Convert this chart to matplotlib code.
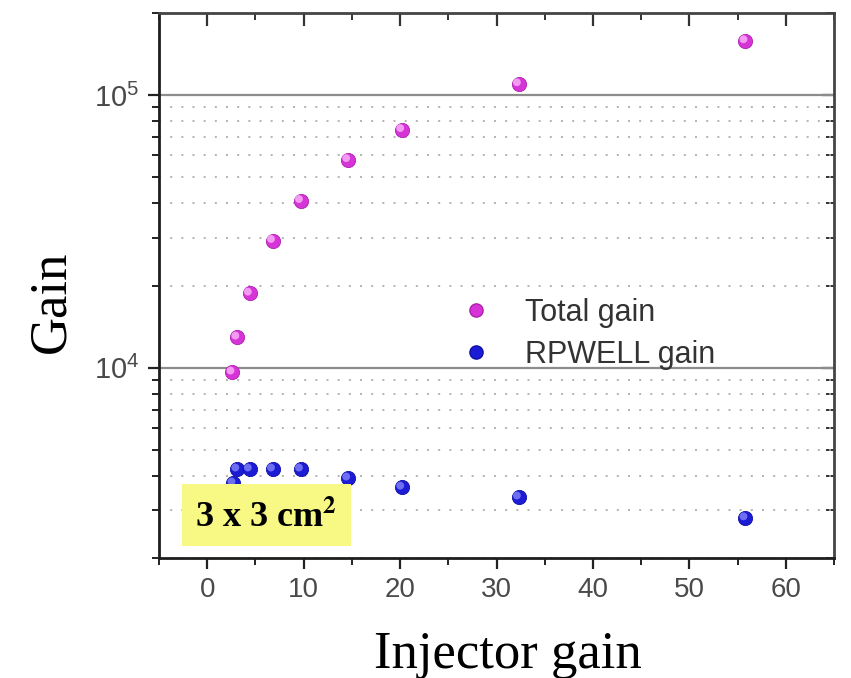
import matplotlib
matplotlib.use("Agg")
import matplotlib.pyplot as plt
import matplotlib.transforms as mtransforms
from matplotlib.ticker import LogLocator, NullFormatter, MultipleLocator, FixedLocator
from matplotlib.lines import Line2D

# Data
injector_gain = [2.6, 3.1, 4.4, 6.8, 9.7, 14.6, 20.2, 32.3, 55.8]
total_gain = [9600, 12900, 18700, 29200, 40900, 57800, 74500, 109700, 157800]
rpwell_inj = [2.7, 3.1, 4.4, 6.8, 9.7, 14.6, 20.2, 32.3, 55.8]
rpwell_gain = [3760, 4230, 4230, 4230, 4230, 3920, 3630, 3340, 2800]
x_ticks = [0, 10, 20, 30, 40, 50, 60]
series_labels = ["Total gain", "RPWELL gain"]

plt.rcParams['mathtext.fontset'] = 'custom'
plt.rcParams['mathtext.rm'] = 'Liberation Sans'
plt.rcParams['mathtext.it'] = 'Liberation Sans:italic'
plt.rcParams['font.family'] = ['Liberation Sans', 'DejaVu Sans']

W, H = 851, 678
fig = plt.figure(figsize=(W / 100, H / 100), dpi=100)
ax = fig.add_axes([159 / W, 1 - 558 / H, (834 - 159) / W, (558 - 13) / H])

ax.set_yscale('log')
ax.set_xlim(-5, 65)
ax.set_ylim(2000, 200000)

# grid
ax.yaxis.set_minor_locator(LogLocator(base=10, subs=range(2, 10)))
ax.yaxis.set_minor_formatter(NullFormatter())
ax.grid(True, which='major', axis='y', color='#8c8c8c', lw=1.6, ls='-')
ax.grid(True, which='minor', axis='y', color='#a8a8a8', lw=1.2, ls=(0, (1.2, 5.5)))
ax.set_axisbelow(True)

ax.xaxis.set_major_locator(FixedLocator(x_ticks))
ax.xaxis.set_minor_locator(MultipleLocator(5))

tick_color = '#4a4a4a'
ax.tick_params(axis='both', which='major', direction='out', length=8, width=1.6,
               color='#222222', labelsize=20, labelcolor=tick_color)
ax.tick_params(axis='both', which='minor', direction='out', length=5, width=1.4, color='#222222')
ax.tick_params(axis='x', which='major', pad=6)
ax.tick_params(axis='y', which='major', pad=6, labelsize=21)

for s in ['left', 'bottom']:
    ax.spines[s].set_linewidth(2.0)
    ax.spines[s].set_color('#1e1e1e')
for s in ['top', 'right']:
    ax.spines[s].set_linewidth(2.0)
    ax.spines[s].set_color('#444444')

# mirrored inward ticks on top/right
secx = ax.secondary_xaxis('top')
secx.xaxis.set_major_locator(FixedLocator(x_ticks))
secx.xaxis.set_minor_locator(MultipleLocator(5))
secx.tick_params(which='major', direction='in', length=9, width=1.6, color='#333333', labeltop=False)
secx.tick_params(which='minor', direction='in', length=5, width=1.4, color='#333333')
secx.spines['top'].set_visible(False)
secy = ax.secondary_yaxis('right')
secy.yaxis.set_minor_locator(LogLocator(base=10, subs=range(2, 10)))
secy.yaxis.set_minor_formatter(NullFormatter())
secy.tick_params(which='major', direction='in', length=9, width=1.6, color='#333333', labelright=False)
secy.tick_params(which='minor', direction='in', length=6, width=1.4, color='#333333')
secy.spines['right'].set_visible(False)

# shaded ball markers
hl = mtransforms.offset_copy(ax.transData, fig=fig, x=-1.8, y=1.8, units='dots')
ax.scatter(injector_gain, total_gain, s=105, color='#d634d6', edgecolors='#b020b0', linewidths=0.6, zorder=3)
ax.scatter(injector_gain, total_gain, s=32, color='#f39af3', edgecolors='none', zorder=4, transform=hl)
ax.scatter(rpwell_inj, rpwell_gain, s=105, color='#1c1cd4', edgecolors='#1010a8', linewidths=0.6, zorder=3)
ax.scatter(rpwell_inj, rpwell_gain, s=32, color='#6e6ef2', edgecolors='none', zorder=4, transform=hl)

# legend
handles = [Line2D([], [], ls='none', marker='o', ms=9.5, color='#d634d6', mec='#b020b0'),
           Line2D([], [], ls='none', marker='o', ms=9.5, color='#1c1cd4', mec='#1010a8')]
leg = ax.legend(handles, series_labels, loc='upper left',
                bbox_to_anchor=(458 / W, 1 - 298 / H), bbox_transform=fig.transFigure,
                frameon=False, fontsize=22, handletextpad=0.98, labelspacing=0.38,
                borderaxespad=0, borderpad=0, handlelength=1.2)
for t in leg.get_texts():
    t.set_color('#333333')

# axis labels
fig.text(51 / W, 1 - 302 / H, 'Gain', rotation=90, ha='center', va='center',
         family='Liberation Serif', fontsize=38, color='black')
fig.text(508 / W, 1 - 668 / H, 'Injector gain', ha='center', va='baseline',
         family='Liberation Serif', fontsize=38, color='black')

# annotation box
fig.patches.append(plt.Rectangle((182 / W, 1 - 546 / H), (351 - 182) / W, (546 - 484) / H,
                                 transform=fig.transFigure, facecolor='#f8f884',
                                 edgecolor='none', zorder=5))
fig.text(266 / W, 1 - 527 / H, '3 x 3 cm$^\\mathbf{2}$', ha='center', va='baseline',
         family='Liberation Serif', fontweight='bold', fontsize=26, color='black', zorder=6,
         math_fontfamily='stix')

fig.savefig('out.png', dpi=100)
